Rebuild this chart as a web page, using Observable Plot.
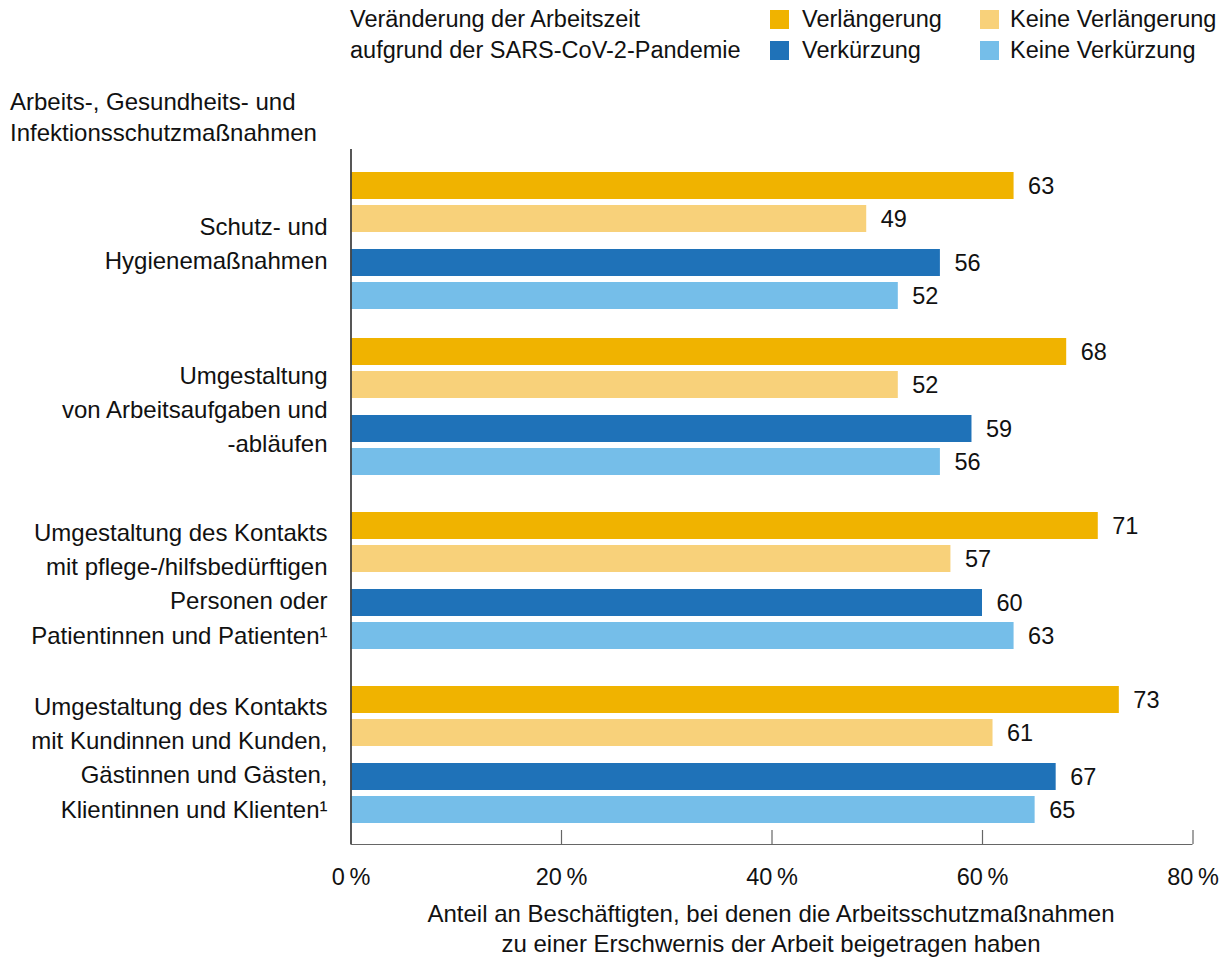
<!DOCTYPE html>
<html><head><meta charset="utf-8">
<script src="https://cdn.jsdelivr.net/npm/d3@7"></script>
<script src="https://cdn.jsdelivr.net/npm/@observablehq/plot@0.6"></script>
<style>
body{margin:0;background:#fff;font-family:"Liberation Sans",Arial,sans-serif;color:#111;}
#wrap{position:relative;width:1228px;height:960px;overflow:hidden;}
.t{position:absolute;font-size:23.5px;line-height:31px;white-space:nowrap;}
.sw{position:absolute;width:19px;height:19px;}
#chart{position:absolute;left:0;top:145px;}
#cap{position:absolute;left:371px;width:800px;top:899px;text-align:center;font-size:24px;line-height:30px;}
</style></head><body>
<div id="wrap">
  <div class="t" id="legTitle" style="left:350px;top:4px;">Veränderung der Arbeitszeit<br>aufgrund der SARS-CoV-2-Pandemie</div>
  <div class="t" id="yTitle" style="left:10px;top:86px;font-size:24px;">Arbeits-, Gesundheits- und<br>Infektionsschutzmaßnahmen</div>
  <div id="legend"></div>
  <div id="chart"></div>
  <div id="cap">Anteil an Beschäftigten, bei denen die Arbeitsschutzmaßnahmen<br>zu einer Erschwernis der Arbeit beigetragen haben</div>
</div>
<script>
// ---- data ----
const categories = [
  "Schutz- und\nHygienemaßnahmen",
  "Umgestaltung\nvon Arbeitsaufgaben und\n-abläufen",
  "Umgestaltung des Kontakts\nmit pflege-/hilfsbedürftigen\nPersonen oder\nPatientinnen und Patienten¹",
  "Umgestaltung des Kontakts\nmit Kundinnen und Kunden,\nGästinnen und Gästen,\nKlientinnen und Klienten¹"
];
const series = ["Verlängerung", "Keine Verlängerung", "Verkürzung", "Keine Verkürzung"];
const colors = ["#F0B300", "#F8D17A", "#1F72B8", "#75BEE9"];
const verlaengerung      = [63, 68, 71, 73];
const keineVerlaengerung = [49, 52, 57, 61];
const verkuerzung        = [56, 59, 60, 67];
const keineVerkuerzung   = [52, 56, 63, 65];
const xTicks = [0, 20, 40, 60, 80];

// ---- layout (not data) ----
const seriesValues = [verlaengerung, keineVerlaengerung, verkuerzung, keineVerkuerzung];
const groupTop = [23, 189, 363, 537], slotOffset = [0, 33, 77, 110], barH = 27;
const axisBottom = 695;

const rows = [];
categories.forEach((c, g) => {
  series.forEach((s, i) => {
    const top = groupTop[g] + slotOffset[i];
    rows.push({category: c, series: s, value: seriesValues[i][g], top, bottom: top + barH});
  });
});
const groups = categories.map((c, g) => ({label: c, center: groupTop[g] + (slotOffset[3] + barH) / 2 + 0.5}));

// ---- legend ----
const legend = document.getElementById("legend");
const legPos = [[770, 10, 802, 4], [980, 10, 1010, 4], [770, 41, 802, 35], [980, 41, 1010, 35]];
series.forEach((s, i) => {
  const [sx, sy, tx, ty] = legPos[i];
  const sw = document.createElement("div");
  sw.className = "sw"; sw.style.left = sx + "px"; sw.style.top = sy + "px"; sw.style.background = colors[i];
  legend.appendChild(sw);
  const t = document.createElement("div");
  t.className = "t"; t.style.left = tx + "px"; t.style.top = ty + "px"; t.textContent = s;
  legend.appendChild(t);
});

// ---- chart ----
const chart = Plot.plot({
  width: 1228, height: 760,
  marginLeft: 350.5, marginRight: 35.5, marginTop: 4, marginBottom: 61,
  style: {fontFamily: "Liberation Sans, Arial, sans-serif", fontSize: "23px", color: "#111", background: "#fff"},
  x: {domain: [0, 80], axis: null},
  y: {domain: [0, axisBottom], range: [4, 699], axis: null},
  color: {domain: series, range: colors},
  marks: [
    Plot.rect(rows, {x1: 0, x2: "value", y1: "top", y2: "bottom", fill: "series"}),
    Plot.text(rows, {x: "value", y: d => (d.top + d.bottom) / 2, text: d => String(d.value), dx: 14, textAnchor: "start", fontSize: 23.5, fill: "#111"}),
    Plot.text(groups, {x: 0, y: "center", text: "label", textAnchor: "end", dx: -23.5, lineHeight: 1.42, fontSize: 24, fill: "#111"}),
    Plot.ruleY([axisBottom], {x1: 0, x2: 80, stroke: "#666", strokeWidth: 1.2}),
    Plot.ruleX(xTicks.slice(1), {x: d => d, y1: axisBottom - 14, y2: axisBottom, stroke: "#666", strokeWidth: 1.2}),
    Plot.ruleX([0], {stroke: "#444", strokeWidth: 1.8}),
    Plot.text(xTicks, {x: d => d, frameAnchor: "bottom", dy: 33, lineAnchor: "middle", text: d => d + "\u2009%", fontSize: 23.5, fill: "#111"})
  ]
});
document.getElementById("chart").appendChild(chart);
</script>
</body></html>
